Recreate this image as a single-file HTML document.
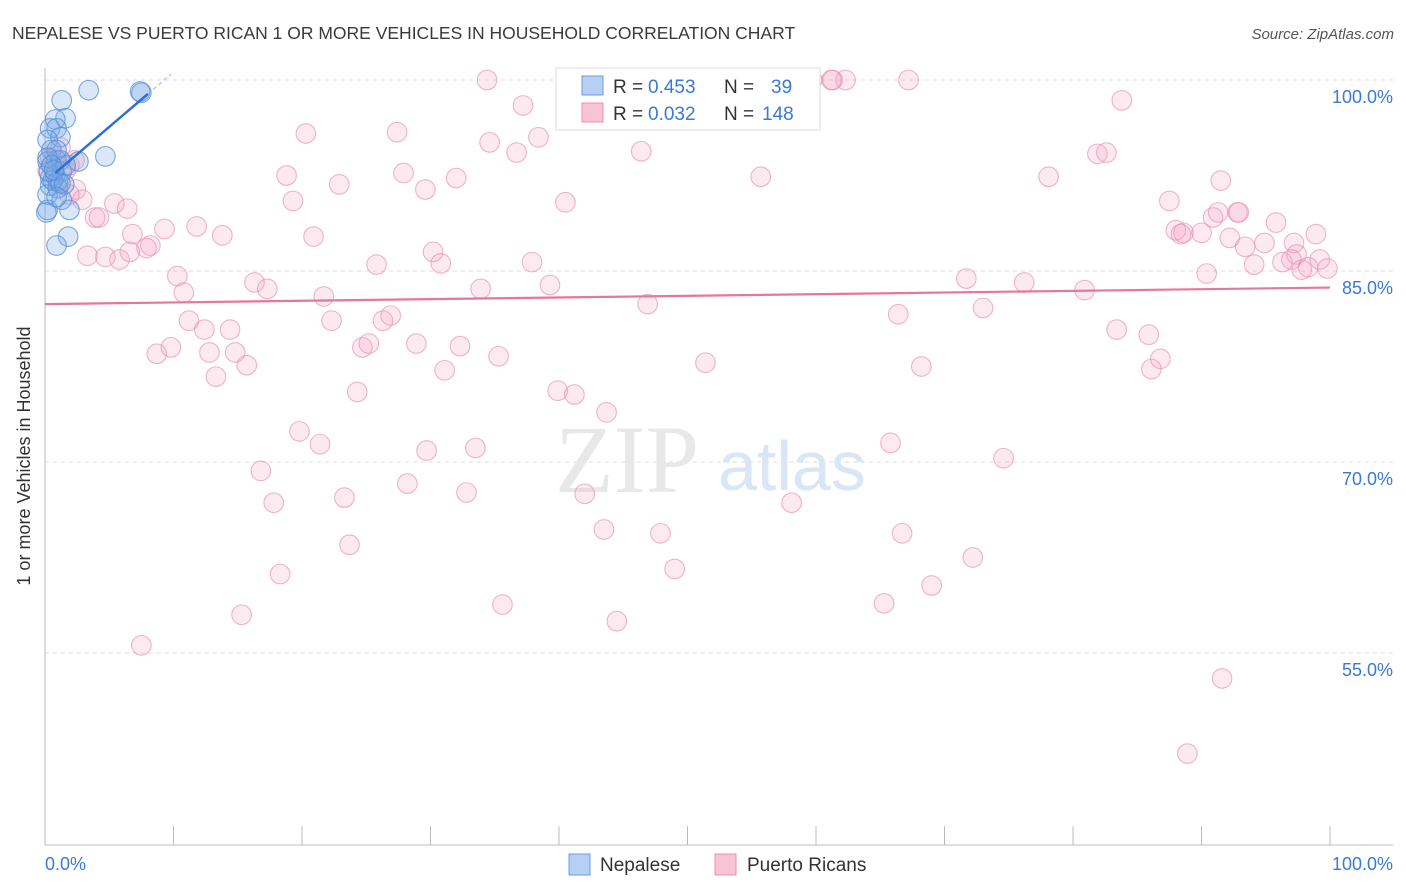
<!DOCTYPE html>
<html><head><meta charset="utf-8"><style>
body{margin:0;background:#fff;font-family:"Liberation Sans",sans-serif;}
svg{display:block}
</style></head><body>
<svg id="chart" width="1406" height="892">
<text x="12" y="39" font-size="17.5" fill="#3a3a3a">NEPALESE VS PUERTO RICAN 1 OR MORE VEHICLES IN HOUSEHOLD CORRELATION CHART</text>
<text x="1394" y="39" font-size="15" fill="#555" text-anchor="end" font-style="italic">Source: ZipAtlas.com</text>
<text x="30" y="456" font-size="18" fill="#333" text-anchor="middle" transform="rotate(-90 30 456)">1 or more Vehicles in Household</text>
<g id="grid"></g>
<text x="555" y="492" font-size="96" fill="#e8e8e8" font-family="Liberation Serif,serif">ZIP</text>
<text x="718" y="490" font-size="70" fill="#d8e6f5">atlas</text>
<g id="pts"></g>
<g id="trend"></g>
<g>
<rect x="556" y="68" width="264" height="62" fill="#fff" stroke="#ddd"/>
<rect x="582" y="76" width="21" height="19" fill="#b5d0f3" stroke="#6a9de0"/>
<text y="93" font-size="19" fill="#333"><tspan x="613">R = </tspan><tspan x="648" fill="#3b78d8">0.453</tspan><tspan x="724">N = </tspan><tspan x="771" fill="#3b78d8">39</tspan></text>
<rect x="582" y="103" width="21" height="19" fill="#f8c3d4" stroke="#e890b0"/>
<text y="120" font-size="19" fill="#333"><tspan x="613">R = </tspan><tspan x="648" fill="#3b78d8">0.032</tspan><tspan x="724">N = </tspan><tspan x="762" fill="#3b78d8">148</tspan></text>
</g>
<g>
<rect x="569" y="854" width="21" height="21" fill="#b5d0f3" stroke="#6a9de0"/>
<text x="600" y="871" font-size="19" fill="#333">Nepalese</text>
<rect x="715" y="854" width="21" height="21" fill="#f8c3d4" stroke="#e890b0"/>
<text x="747" y="871" font-size="19" fill="#333">Puerto Ricans</text>
</g>
</svg>
<script>
const yTicks=[100,85,70,55];
const xTickLabels=["0.0%","100.0%"];
const pinkX=[34.4,47.9,59.7,61.3,62.3,67.2,37.2,83.8,20.3,27.4,34.6,38.4,46.4,36.7,81.9,82.6,18.8,27.9,32.0,22.9,29.6,55.7,78.1,91.5,19.3,40.5,87.5,2.4,2.9,5.4,6.4,3.9,4.2,6.8,9.3,11.8,13.8,20.9,8.2,7.9,3.3,4.7,5.8,88.0,88.4,90.0,92.2,90.9,91.3,92.8,93.4,94.9,95.8,97.2,98.9,94.1,96.3,97.4,97.8,98.3,99.2,99.8,90.4,30.2,30.8,25.8,37.9,10.3,10.8,16.3,17.3,21.7,33.9,39.3,71.7,76.2,80.9,46.9,73.0,66.4,83.4,85.9,11.2,12.4,14.4,22.3,26.3,26.9,8.7,9.8,12.8,14.8,15.7,13.3,24.7,25.2,28.9,32.3,35.3,31.1,51.4,68.2,86.8,86.1,24.3,39.9,41.2,43.7,19.8,21.4,29.7,33.5,65.8,74.6,16.8,17.8,23.3,28.2,32.8,42.0,58.1,43.5,47.9,66.7,23.7,72.2,49.0,18.3,69.0,35.6,65.3,15.3,44.5,7.5,91.6,88.9,1.2,2.3,1.9,0.8,1.6,1.0,1.9,61.2,88.6,97.0,92.9,6.6,0.4,0.2];
const pinkY=[100,100,100,100,100,100,98.0,98.4,95.8,95.9,95.1,95.5,94.4,94.3,94.2,94.3,92.5,92.7,92.3,91.8,91.4,92.4,92.4,92.1,90.5,90.4,90.5,91.4,90.6,90.3,89.9,89.2,89.2,87.9,88.3,88.5,87.8,87.7,87.0,86.8,86.2,86.1,85.9,88.2,87.9,88.0,87.6,89.2,89.6,89.6,86.9,87.2,88.8,87.2,87.9,85.5,85.7,86.3,85.1,85.3,85.9,85.2,84.8,86.5,85.6,85.5,85.7,84.6,83.3,84.1,83.6,83.0,83.6,83.9,84.4,84.1,83.5,82.4,82.1,81.6,80.4,80.0,81.1,80.4,80.4,81.1,81.1,81.5,78.5,79.0,78.6,78.6,77.6,76.7,79.0,79.3,79.3,79.1,78.3,77.2,77.8,77.5,78.1,77.3,75.5,75.6,75.3,73.9,72.4,71.4,70.9,71.1,71.5,70.3,69.3,66.8,67.2,68.3,67.6,67.5,66.8,64.7,64.4,64.4,63.5,62.5,61.6,61.2,60.3,58.8,58.9,58.0,57.5,55.6,53.0,47.1,94.7,93.7,93.3,93.9,92.9,92.0,91.0,100,88.0,85.9,89.6,86.5,93.9,92.9];
const blueX=[3.4,7.5,1.3,1.6,0.8,0.4,0.9,1.2,0.2,0.5,2.6,4.7,0.9,1.2,0.2,1.3,0.4,0.8,1.0,0.4,1.0,0.2,1.3,1.9,0.2,0.1,1.8,0.9,1.2,0.6,0.3,0.9,0.2,1.6,0.5,0.7,1.5,0.9,7.4];
const blueY=[99.2,99.0,98.4,97.0,96.9,96.2,96.2,95.5,95.3,94.5,93.6,94.0,93.7,93.7,93.6,92.8,92.3,92.5,92.1,91.7,91.5,91.0,90.6,89.8,89.8,89.6,87.7,87.0,91.9,92.1,92.8,94.5,93.9,93.3,93.3,92.9,91.8,90.8,99.1];
const pinkTrend=[82.4,83.7];
const blueTrend=[[0.8,92.7],[8.0,98.9]];
const sx=v=>45+v*12.85, sy=v=>80+(100-v)*12.733;
const NS="http://www.w3.org/2000/svg";
function mk(t,a,p){const e=document.createElementNS(NS,t);for(const k in a)e.setAttribute(k,a[k]);p.appendChild(e);return e;}
const grid=document.getElementById('grid');
yTicks.forEach(v=>{
 const l=mk('line',{x1:45,x2:1393,y1:sy(v),y2:sy(v),stroke:'#ddd','stroke-dasharray':'4,4'},grid);
 
 
 const t=mk('text',{x:1393,y:sy(v)+23,'font-size':18,fill:'#3b78d8','text-anchor':'end'},grid);
 t.textContent=v.toFixed(1)+'%';
 
 
});
mk('line',{x1:45,x2:45,y1:68,y2:845,stroke:'#bbb'},grid);
mk('line',{x1:45,x2:1393,y1:845,y2:845,stroke:'#bbb'},grid);
for(let i=0;i<=10;i++){mk('line',{x1:sx(i*10),x2:sx(i*10),y1:826,y2:845,stroke:'#bbb'},grid);}
const xl0=mk('text',{x:45,y:870,'font-size':18,fill:'#3b78d8'},grid);xl0.textContent=xTickLabels[0];


const xl1=mk('text',{x:1393,y:870,'font-size':18,fill:'#3b78d8','text-anchor':'end'},grid);xl1.textContent=xTickLabels[1];


const pts=document.getElementById('pts');
pinkX.forEach((x,i)=>{const c=mk('circle',{cx:sx(x),cy:sy(pinkY[i]),r:9.8,fill:'rgba(244,160,190,0.22)',stroke:'rgba(232,140,175,0.65)','stroke-width':1.1},pts);
 
 });
blueX.forEach((x,i)=>{const c=mk('circle',{cx:sx(x),cy:sy(blueY[i]),r:9.8,fill:'rgba(120,170,230,0.28)',stroke:'rgba(80,140,215,0.75)','stroke-width':1.1},pts);
 
 });
const tr=document.getElementById('trend');
const pl=mk('line',{x1:sx(0),y1:sy(pinkTrend[0]),x2:sx(100),y2:sy(pinkTrend[1]),stroke:'#e8759c','stroke-width':2.2},tr);


const b0=blueTrend[0],b1=blueTrend[1];
const bl=mk('line',{x1:sx(b0[0]),y1:sy(b0[1]),x2:sx(b1[0]),y2:sy(b1[1]),stroke:'#2f6fd6','stroke-width':2.5},tr);


const slope=(b1[1]-b0[1])/(b1[0]-b0[0]);
const bd=mk('line',{x1:sx(b1[0]),y1:sy(b1[1]),x2:sx(b1[0]+1.8),y2:sy(b1[1]+1.8*slope),stroke:'#8fb4ea','stroke-width':1,'stroke-dasharray':'4,3'},tr);


</script>
</body></html>
